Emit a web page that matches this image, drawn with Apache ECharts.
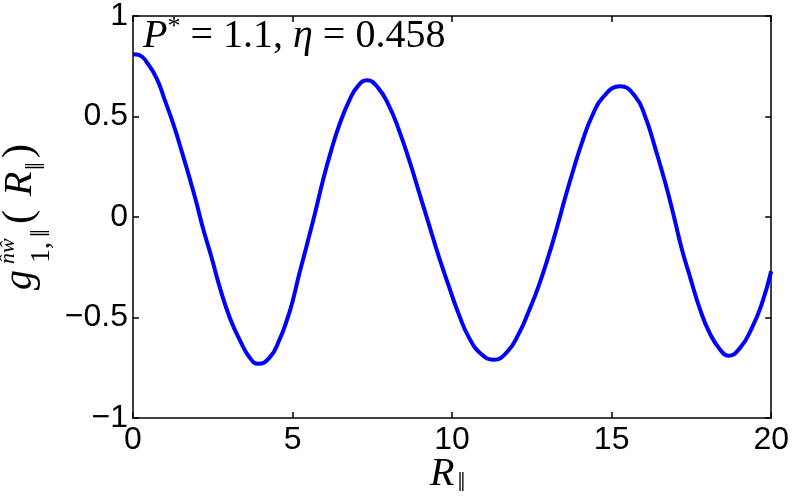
<!DOCTYPE html>
<html>
<head>
<meta charset="utf-8">
<script src="https://cdn.jsdelivr.net/npm/echarts@6/dist/echarts.min.js"></script>
<style>
  html, body { margin: 0; padding: 0; background: #fff; }
  #chart { width: 792px; height: 500px; }
</style>
</head>
<body>
<div id="chart"></div>
<script>
// 读自图片的曲线点 (R_par, g)
const rPar = [0, 0.2, 0.43, 0.74, 1.0, 1.29, 1.52, 1.78, 1.99, 2.2, 2.46, 2.72, 3.03, 3.34, 3.66, 3.92,
  4.28, 4.59, 4.85, 5.0, 5.2, 5.43, 5.69, 5.95, 6.21, 6.47, 6.78, 7.04, 7.33, 7.67, 8.03, 8.34,
  8.66, 8.97, 9.28, 9.59, 9.91, 10.2, 10.53, 10.9, 11.31, 11.73, 12.09, 12.4, 12.72, 13.03, 13.29,
  13.55, 13.81, 14.07, 14.38, 14.75, 15.27, 15.74, 16.05, 16.37, 16.68, 16.94, 17.2, 17.46, 17.77,
  18.08, 18.4, 18.66, 19.03, 19.4, 19.71, 20];
const gVal = [0.81, 0.805, 0.77, 0.69, 0.58, 0.45, 0.33, 0.19, 0.07, -0.06, -0.20, -0.35, -0.50, -0.61, -0.70, -0.73,
  -0.70, -0.61, -0.50, -0.42, -0.29, -0.15, 0.01, 0.18, 0.33, 0.46, 0.58, 0.65, 0.68, 0.645, 0.55, 0.43,
  0.28, 0.12, -0.04, -0.20, -0.35, -0.48, -0.60, -0.68, -0.71, -0.67, -0.58, -0.47, -0.34, -0.19, -0.05,
  0.10, 0.24, 0.37, 0.50, 0.60, 0.65, 0.60, 0.50, 0.34, 0.17, 0.01, -0.16, -0.30, -0.46,
  -0.58, -0.66, -0.69, -0.65, -0.55, -0.43, -0.27];

const xTicks = [0, 5, 10, 15, 20];
const yTicks = [-1, -0.5, 0, 0.5, 1];
const titleText = '{i|P}{s|*}{n| = 1.1, }{i|η}{n| = 0.458}';

const chart = echarts.init(document.getElementById('chart'));

const serif = '"Liberation Serif", "Times New Roman", serif';
const sans = '"Liberation Sans", Arial, sans-serif';
const fmtMinus = v => (v < 0 ? '\u2212' + Math.abs(v) : String(v));

const axisCommon = {
  type: 'value',
  axisLine: { show: true, onZero: false, lineStyle: { color: '#000', width: 1.5 } },
  axisTick: { show: true, inside: true, length: 6, lineStyle: { color: '#000', width: 1.5 } },
  splitLine: { show: false },
};

// y 轴标题：旋转的组
const sub = 28;
const yName = {
  type: 'group',
  x: 0,
  y: 290,
  rotation: Math.PI / 2,
  silent: true,
  children: [
    { type: 'text', x: 0, y: 20, style: { text: 'g', font: 'italic 40px ' + serif, fill: '#000', textAlign: 'left', textVerticalAlign: 'middle' } },
    { type: 'text', x: 26, y: 8, style: { text: 'n\u0302w\u0302', font: 'italic ' + (sub - 6) + 'px ' + serif, fill: '#000', textAlign: 'left', textVerticalAlign: 'middle' } },
    { type: 'text', x: 27, y: 42, style: { text: '1,', font: sub + 'px ' + serif, fill: '#000', textAlign: 'left', textVerticalAlign: 'middle' } },
    { type: 'text', x: 53, y: 42, style: { text: '\u2016', font: sub + 'px ' + serif, fill: '#000', textAlign: 'left', textVerticalAlign: 'middle' } },
    { type: 'text', x: 66, y: 20, style: { text: '(', font: '42px ' + serif, fill: '#000', textAlign: 'left', textVerticalAlign: 'middle' } },
    { type: 'text', x: 94, y: 20, style: { text: 'R', font: 'italic 40px ' + serif, fill: '#000', textAlign: 'left', textVerticalAlign: 'middle' } },
    { type: 'text', x: 120, y: 37, style: { text: '\u2016', font: sub + 'px ' + serif, fill: '#000', textAlign: 'left', textVerticalAlign: 'middle' } },
    { type: 'text', x: 132, y: 20, style: { text: ')', font: '42px ' + serif, fill: '#000', textAlign: 'left', textVerticalAlign: 'middle' } },
  ],
};

const option = {
  animation: false,
  backgroundColor: '#fff',
  grid: { left: 133, right: 19, top: 12, bottom: 82 },
  xAxis: [
    {
      ...axisCommon,
      position: 'bottom',
      min: 0, max: 20, interval: 5,
      axisLabel: { show: true, margin: 6, color: '#000', fontFamily: sans, fontSize: 32,
        formatter: v => (xTicks.includes(v) ? fmtMinus(v) : '') },
    },
    {
      ...axisCommon,
      position: 'top',
      min: 0, max: 20, interval: 5,
      axisLabel: { show: false },
    },
  ],
  yAxis: [
    {
      ...axisCommon,
      position: 'left',
      min: -1, max: 1, interval: 0.5,
      axisLabel: { show: true, margin: 5, color: '#000', fontFamily: sans, fontSize: 32,
        formatter: v => (yTicks.includes(v) ? fmtMinus(v) : '') },
    },
    {
      ...axisCommon,
      position: 'right',
      min: -1, max: 1, interval: 0.5,
      axisLabel: { show: false },
    },
  ],
  graphic: [
    {
      type: 'text',
      left: 143,
      top: 14,
      silent: true,
      style: {
        text: titleText,
        fill: '#000',
        rich: {
          i: { fontFamily: serif, fontStyle: 'italic', fontSize: 40, lineHeight: 44 },
          n: { fontFamily: serif, fontSize: 40, lineHeight: 44 },
          s: { fontFamily: serif, fontSize: 26, lineHeight: 34, verticalAlign: 'top' },
        },
      },
    },
    {
      type: 'text',
      left: 430,
      top: 454,
      silent: true,
      style: {
        text: '{r|R}{s|\u2016}',
        fill: '#000',
        rich: {
          r: { fontFamily: serif, fontStyle: 'italic', fontSize: 40, lineHeight: 44, verticalAlign: 'top' },
          s: { fontFamily: serif, fontSize: 28, lineHeight: 28, verticalAlign: 'bottom', padding: [0, 0, 0, 3] },
        },
      },
    },
    yName,
  ],
  series: [
    {
      type: 'line',
      xAxisIndex: 0,
      yAxisIndex: 0,
      data: rPar.map((x, i) => [x, gVal[i]]),
      smooth: true,
      symbol: 'none',
      lineStyle: { color: '#0000ff', width: 4 },
      clip: true,
    },
  ],
};

chart.setOption(option);
</script>
</body>
</html>
